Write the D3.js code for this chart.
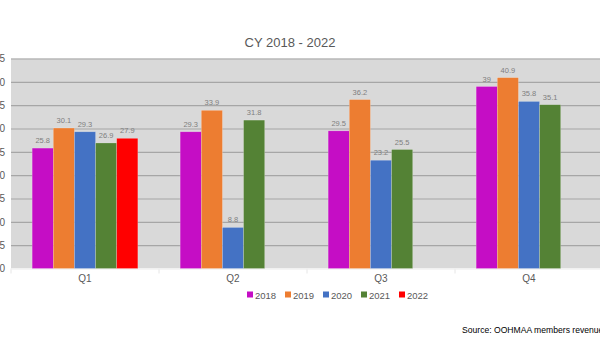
<!DOCTYPE html>
<html><head><meta charset="utf-8">
<script src="https://cdn.jsdelivr.net/npm/d3@7"></script>
<style>body{margin:0;background:#fff;overflow:hidden}svg{display:block;font-family:Arial,"Liberation Sans",sans-serif}</style>
</head><body>
<svg id="c" width="600" height="350"></svg>
<script>
const categories = ["Q1","Q2","Q3","Q4"];
const years = ["2018","2019","2020","2021","2022"];
const colors = ["#c50dc5","#ed7d31","#4472c4","#548235","#ff0000"];
const v2018 = [25.8, 29.3, 29.5, 39];
const v2019 = [30.1, 33.9, 36.2, 40.9];
const v2020 = [29.3, 8.8, 23.2, 35.8];
const v2021 = [26.9, 31.8, 25.5, 35.1];
const v2022 = [27.9, null, null, null];
const yTicks = [0,5,10,15,20,25,30,35,40,45];
const title = "CY 2018 - 2022";
const source = "Source: OOHMAA members revenue";

(function(){
const series = [v2018, v2019, v2020, v2021, v2022];
const svg = d3.select("#c");
const pl = 11, pr = 603, pt = 58.5, pb = 268.5;

const x = d3.scaleBand().domain(categories).range([pl, pr]);
const xi = d3.scaleBand().domain(years).range([0, x.bandwidth()]).paddingOuter(1).paddingInner(0);
const y = d3.scaleLinear().domain([0,45]).range([pb, pt]);

svg.append("rect").attr("x", pl).attr("y", pt).attr("width", pr-pl).attr("height", pb-pt).attr("fill", "#d9d9d9");

const yAxis = svg.append("g").attr("transform", `translate(${pl},0)`)
  .call(d3.axisLeft(y).tickValues(yTicks).tickSize(-(pr-pl)).tickPadding(6));
yAxis.select(".domain").remove();
yAxis.selectAll(".tick line").attr("stroke", "#a6a6a6").attr("stroke-width", 1.2);
yAxis.selectAll(".tick text").attr("fill", "#595959").style("font-size", "10px");
yAxis.selectAll(".tick").filter(d => d === 0).select("line").attr("stroke", "#f2f2f2");

svg.append("g").selectAll("line").data(d3.range(categories.length + 1)).join("line")
  .attr("x1", i => pl + i*x.step()).attr("x2", i => pl + i*x.step())
  .attr("y1", pb).attr("y2", pb+5).attr("stroke", "#e6e6e6");

const xAxis = svg.append("g").attr("transform", `translate(0,${pb})`)
  .call(d3.axisBottom(x).tickSize(0).tickPadding(6));
xAxis.select(".domain").attr("stroke", "#f2f2f2");
xAxis.selectAll(".tick text").attr("fill", "#595959").style("font-size", "10px");

const data = [];
categories.forEach((c, ci) => years.forEach((yr, yi) => {
  const v = series[yi][ci];
  if (v != null) data.push({c, yr, yi, v});
}));

svg.append("g").selectAll("rect").data(data).join("rect")
  .attr("x", d => x(d.c) + xi(d.yr))
  .attr("y", d => y(d.v))
  .attr("width", xi.bandwidth())
  .attr("height", d => y(0) - y(d.v))
  .attr("fill", d => colors[d.yi])
  .attr("stroke", "rgba(255,255,255,0.35)").attr("stroke-width", 0.6);

svg.append("g").selectAll("text").data(data).join("text")
  .attr("x", d => x(d.c) + xi(d.yr) + xi.bandwidth()/2)
  .attr("y", d => y(d.v) - 5)
  .attr("text-anchor", "middle")
  .attr("fill", "#7f7f7f").style("font-size", "7.5px")
  .text(d => d.v);

svg.append("text").attr("x", 290).attr("y", 47).attr("text-anchor", "middle")
  .attr("fill", "#595959").style("font-size", "13px").text(title);

const lg = svg.append("g").attr("transform", "translate(247,295)");
const items = lg.selectAll("g").data(years).join("g").attr("transform", (d,i) => `translate(${i*38},0)`);
items.append("rect").attr("x", 0).attr("y", -3.5).attr("width", 6).attr("height", 6).attr("fill", (d,i) => colors[i]);
items.append("text").attr("x", 8).attr("y", 3.5).attr("fill", "#595959").style("font-size", "9.5px").text(d => d);

svg.append("text").attr("x", 462).attr("y", 333).attr("fill", "#000").style("font-size", "8.6px").text(source);
})();
</script>
</body></html>
